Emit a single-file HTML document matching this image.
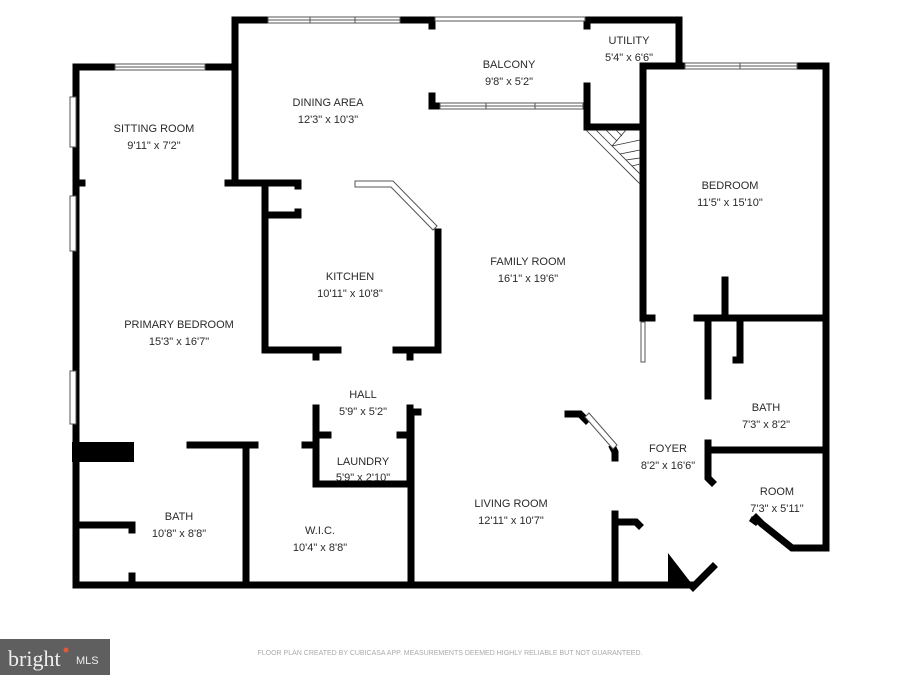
<!DOCTYPE html>
<html><head><meta charset="utf-8"><style>
html,body{margin:0;padding:0;background:#fff;}
svg{display:block;}
text{font-family:"Liberation Sans",sans-serif;fill:#2a2a2a;}
</style></head><body>
<svg width="900" height="675" viewBox="0 0 900 675" xmlns="http://www.w3.org/2000/svg">
<rect width="900" height="675" fill="#fff"/>
<g stroke="#000" stroke-width="7" stroke-linecap="square" fill="none">
<path d="M76 67 L76 585 L690 585"/>
<path d="M76 67 L235 67 L235 183"/>
<path d="M235 20 L235 67"/>
<path d="M235 20 L268 20 M400 20 L432 20 L432 26"/>
<path d="M432 96 L432 106 L438 106"/>
<path d="M587 20 L679 20 L679 66"/>
<path d="M587 20 L587 26 M587 86 L587 127 L643 127"/>
<path d="M643 66 L684 66 M797 66 L826 66 L826 548"/>
<path d="M643 66 L643 318 L652 318"/>
<path d="M697 318 L826 318"/>
<path d="M725 280 L725 318"/>
<path d="M76 183 L82 183 M228 183 L298 183"/>
<path d="M265 183 L265 350 L338 350 M396 350 L438 350 L438 232"/>
<path d="M265 215 L298 215"/>
<path d="M298 183 L298 186 M298 212 L298 215"/>
<path d="M316 350 L316 357 M316 408 L316 484 L410 484 L410 408 M410 350 L410 357"/>
<path d="M316 435 L328 435 M400 435 L410 435"/>
<path d="M190 445 L255 445 L255 445"/>
<path d="M246 445 L246 585"/>
<path d="M305 445 L316 445"/>
<path d="M76 525 L132 525 L132 530 M132 576 L132 585"/>
<path d="M411 412 L411 585"/>
<path d="M411 412 L418 412"/>
<path d="M568 414 L580 414 L586 420"/>
<path d="M613 448 L615 452 L615 458"/>
<path d="M615 514 L615 585"/>
<path d="M615 522 L636 522 L639 525"/>
<path d="M693 587 L713 567"/>
<path d="M708 320 L708 396 M708 443 L708 478 L712 482"/>
<path d="M740 320 L740 360 L736 360"/>
<path d="M708 450 L826 450"/>
<path d="M756 518 L762 524 L792 548 L826 548"/>
</g>
<rect x="72" y="442" width="62" height="20" fill="#000"/>
<polygon points="668,553 668,588 695,588" fill="#000"/>
<path d="M752 516 L760 522 L756 526 L749 521 Z" fill="#000"/>
<g fill="#fff" stroke="#555" stroke-width="1">
<rect x="268" y="17" width="132" height="6"/><line x1="268" y1="20" x2="400" y2="20"/>
<line x1="310" y1="17" x2="310" y2="23"/><line x1="355" y1="17" x2="355" y2="23"/>
<rect x="435" y="17" width="150" height="4"/>
<rect x="440" y="103" width="143" height="6"/><line x1="440" y1="106" x2="583" y2="106"/>
<line x1="486" y1="103" x2="486" y2="109"/><line x1="535" y1="103" x2="535" y2="109"/>
<rect x="115" y="64" width="90" height="6"/><line x1="115" y1="67" x2="205" y2="67"/>
<rect x="685" y="63" width="112" height="6"/><line x1="685" y1="66" x2="797" y2="66"/>
<line x1="740" y1="63" x2="740" y2="69"/>
<rect x="70" y="97" width="6" height="50"/>
<rect x="70" y="196" width="6" height="55"/>
<rect x="70" y="371" width="6" height="53"/>
<rect x="641" y="322" width="4" height="40"/>
<polygon points="355,181 393,181 437,226 433,230 391,187 355,187"/>
<polygon points="585,417 589,413 617,445 613,449"/>
</g>
<g stroke="#333" stroke-width="0.8" fill="none">
<path d="M586 130 L640 184"/>
<path d="M596 130 L612 146 M606 130 L617 141 M616 130 L622 136"/>
<path d="M612 146 L640 140 M612 146 L640 174"/>
<path d="M620 154 L640 150 M626 160 L640 158 M632 166 L640 164"/>
<path d="M612 146 L626 130"/>
</g>
<g font-size="11" text-anchor="middle">
<text x="154" y="132">SITTING ROOM</text><text x="154" y="149">9'11" x 7'2"</text>
<text x="328" y="106">DINING AREA</text><text x="328" y="123">12'3" x 10'3"</text>
<text x="509" y="68">BALCONY</text><text x="509" y="85">9'8" x 5'2"</text>
<text x="629" y="44">UTILITY</text><text x="629" y="61">5'4" x 6'6"</text>
<text x="730" y="189">BEDROOM</text><text x="730" y="206">11'5" x 15'10"</text>
<text x="350" y="280">KITCHEN</text><text x="350" y="297">10'11" x 10'8"</text>
<text x="528" y="265">FAMILY ROOM</text><text x="528" y="282">16'1" x 19'6"</text>
<text x="179" y="328">PRIMARY BEDROOM</text><text x="179" y="345">15'3" x 16'7"</text>
<text x="363" y="398">HALL</text><text x="363" y="415">5'9" x 5'2"</text>
<text x="363" y="465">LAUNDRY</text><text x="363" y="481">5'9" x 2'10"</text>
<text x="766" y="411">BATH</text><text x="766" y="428">7'3" x 8'2"</text>
<text x="668" y="452">FOYER</text><text x="668" y="469">8'2" x 16'6"</text>
<text x="777" y="495">ROOM</text><text x="777" y="512">7'3" x 5'11"</text>
<text x="511" y="507">LIVING ROOM</text><text x="511" y="524">12'11" x 10'7"</text>
<text x="179" y="520">BATH</text><text x="179" y="537">10'8" x 8'8"</text>
<text x="320" y="534">W.I.C.</text><text x="320" y="551">10'4" x 8'8"</text>
</g>
<text x="450" y="655" font-size="7" text-anchor="middle" style="fill:#aaa">FLOOR PLAN CREATED BY CUBICASA APP. MEASUREMENTS DEEMED HIGHLY RELIABLE BUT NOT GUARANTEED.</text>
<rect x="0" y="639" width="110" height="36" fill="#5f5f5f"/>
<text x="8" y="666" font-size="22" style="fill:#eee;font-family:'Liberation Serif',serif">bright</text>
<circle cx="66" cy="650" r="2.5" fill="#e05a3a"/>
<text x="76" y="664" font-size="11" style="fill:#eee">MLS</text>
</svg>
</body></html>
